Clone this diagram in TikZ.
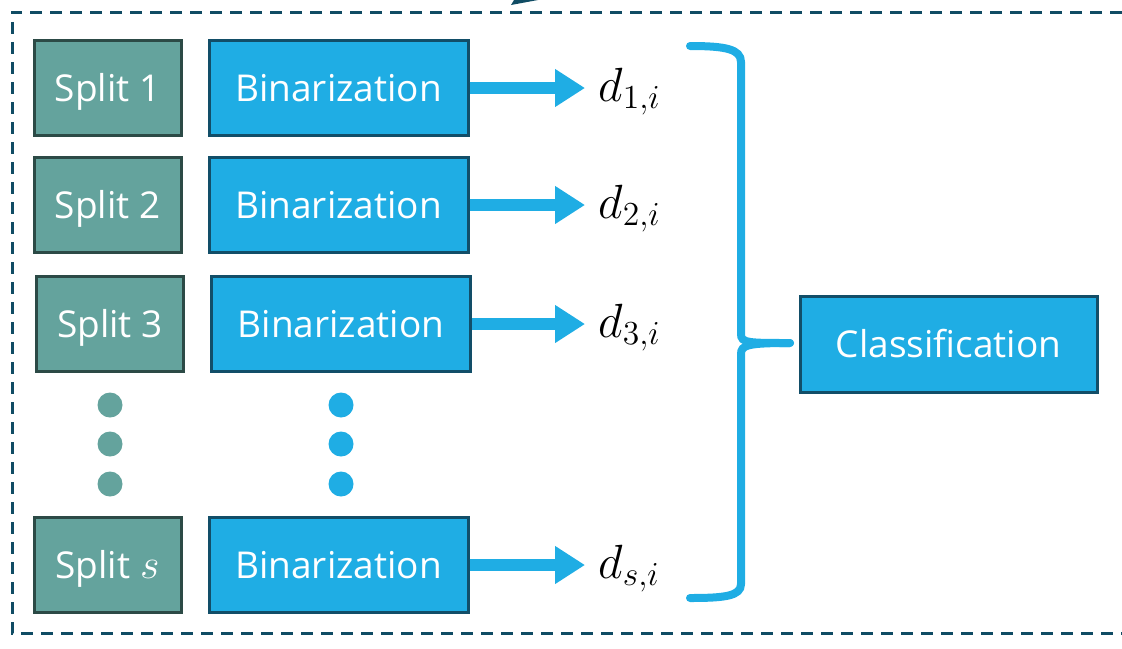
\documentclass[tikz,border=0pt]{standalone}
\usepackage{fix-cm}
\usepackage[no-math]{fontspec}
\usepackage{tikz}
\setmainfont{Open Sans}
\usetikzlibrary{arrows.meta,positioning}
\definecolor{splitfill}{RGB}{100, 163, 157}
\definecolor{splitline}{RGB}{44, 74, 70}
\definecolor{binfill}{RGB}{31, 173, 228}
\definecolor{binline}{RGB}{18, 78, 104}
\definecolor{frameline}{RGB}{16, 76, 100}
\tikzstyle{split} = [
    rectangle,
    minimum width=73.5pt,
    minimum height=47.5pt,
    draw=splitline,
    fill=splitfill,
    line width=1.5pt,
    text=white,
    text height=13.5pt,
    text depth=0pt,
    font=\fontsize{18.5}{22}\selectfont
]
\tikzstyle{binar} = [
    rectangle,
    minimum width=129.5pt,
    minimum height=47.5pt,
    draw=binline,
    fill=binfill,
    line width=1.5pt,
    text=white,
    text height=13.5pt,
    text depth=0pt,
    font=\fontsize{18.5}{22}\selectfont
]
\tikzstyle{arrow} = [
    line width=6pt,
    -{Triangle[length=15pt,width=18pt]},
    draw=binfill
]
\tikzstyle{brace} = [
    line width=4pt,
    draw=binfill,
    line cap=round
]
\begin{document}
\begin{tikzpicture}[x=0.5pt,y=-0.5pt]
\useasboundingbox (0,0) rectangle (1122,648);
% dashed frame, open to the right
\draw[frameline, line width=1.5pt, dash pattern=on 6pt off 4pt]
    (1122,12) -- (12,12) -- (12,633) -- (1122,633);
\fill[frameline] (511,5) -- (514,0) -- (538,0) -- cycle;
% rows
\foreach \y/\t/\n/\dx in {
    88/1/1/0,
    205/2/2/0,
    324/3/3/2.5,
    565/{{\fontsize{21}{24}\selectfont$s$}}/s/0
} {
    \node[split] (split\n) at (107.5+\dx,\y) {Split \t};
    \node[binar] (bin\n) at (338.5+\dx,\y) {Binarization};
    \node[anchor=base west, inner xsep=6.5pt, inner ysep=0pt,
          font=\fontsize{24}{26}\selectfont]
        (d\n) at (585,\y+13) {$d_{\n,i}$};
    \draw[arrow] (bin\n.east) -- (bin\n.east -| d\n.west);
}
% vertical dots
\foreach \y in {405,444,484} {
    \fill[splitfill] (110,\y) circle (6.25pt);
    \fill[binfill] (341,\y) circle (6.25pt);
}
% brace
\draw[brace] (690,46) .. controls (725,46) and (741,49) .. (741,62)
    -- (741,334) .. controls (741,343) and (748,343) .. (790,343);
\draw[brace] (790,343) .. controls (748,343) and (741,345) .. (741,354)
    -- (741,584) .. controls (741,596) and (725,598) .. (690,598);
\node[binar, minimum width=148.5pt, minimum height=48pt]
    (cls) at (948.5,344) {Classification};
\end{tikzpicture}
\end{document}
